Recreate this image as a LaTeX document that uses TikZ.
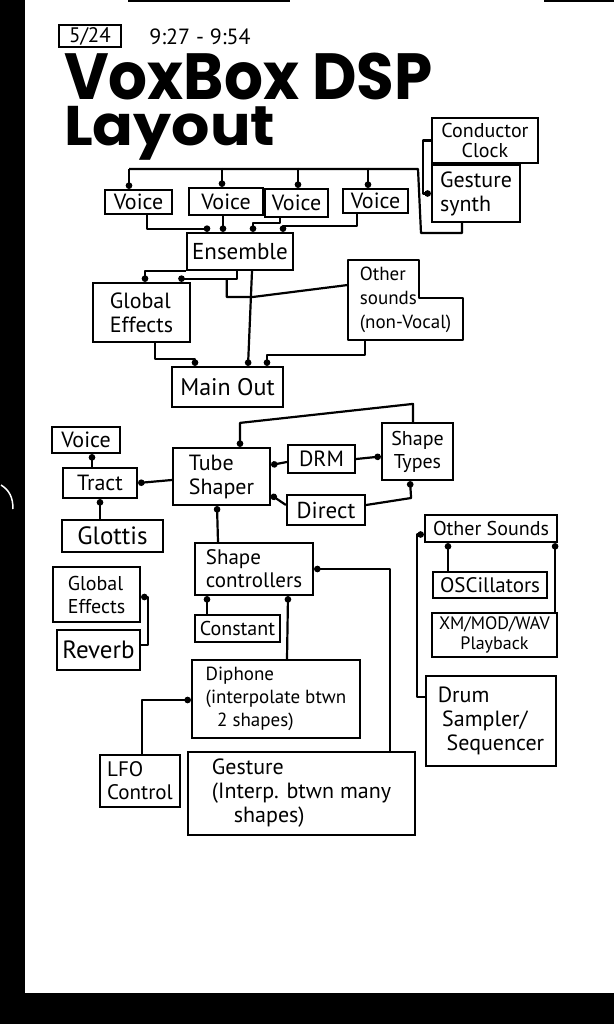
\documentclass[tikz,border=0pt]{standalone}
\usepackage{fontspec}
\setmainfont{PT Sans}
\newfontfamily\titlefont{Poppins}
\usepackage{graphicx}
\usetikzlibrary{arrows.meta}
\newcommand{\fsz}[2]{\fontsize{#1}{#2}\selectfont}
\begin{document}
\begin{tikzpicture}[x=1pt,y=-1pt,
  box/.style={draw, line width=2.2pt, inner sep=0pt, align=center},
  conn/.style={line width=2.2pt, line join=round},
  dotE/.style={conn, -{Circle[length=6.5pt]}},
  dotS/.style={conn, {Circle[length=6.5pt]}-},
  ]
\useasboundingbox (0,0) rectangle (614,1024);
\fill[white] (0,0) rectangle (614,1024);
\fill[black] (0,0) rectangle (25,1024);
\fill[black] (0,993) rectangle (614,1024);
\fill[black] (128,0) rectangle (290,2);
\fill[black] (544,0) rectangle (614,2);
\draw[white, line width=1.5pt] (1,485) .. controls (9,490) and (13,497) .. (13,509);

% title
\node[box, minimum width=62pt, minimum height=22pt, font=\fsz{21}{22}] (date) at (90,36) {5/24};
\node[inner sep=0pt, font=\fsz{22}{23}] (time) at (200,37) {9:27 - 9:54};
\node[anchor=north west, inner sep=0pt, font=\titlefont\bfseries] (title) at (64,53) {\resizebox*{368pt}{47pt}{VoxBox DSP}};
\node[anchor=north west, inner sep=0pt, font=\titlefont\bfseries] (title2) at (64,106) {\resizebox*{211pt}{54pt}{Layout}};

% top group
\node[box, minimum width=67pt, minimum height=24pt, font=\fsz{22}{24}] (v1) at (138.5,202) {Voice};
\node[box, minimum width=74pt, minimum height=27pt, font=\fsz{22}{24}] (v2) at (226,201.5) {Voice};
\node[box, minimum width=63pt, minimum height=28pt, font=\fsz{22}{24}] (v3) at (296.5,203) {Voice};
\node[box, minimum width=65pt, minimum height=24pt, font=\fsz{22}{24}] (v4) at (375.5,201) {Voice};
\node[box, minimum width=106pt, minimum height=37pt, font=\fsz{23}{24}] (ens) at (240,251.5) {Ensemble};
\node[box, minimum width=106pt, minimum height=45pt, font=\fsz{20}{20}] (cclock) at (485,140.5) {Conductor\\Clock};
\node[box, minimum width=88pt, minimum height=57pt, font=\fsz{22}{24}, align=left] (gsynth) at (476,193.5) {Gesture\\synth};
\node[box, minimum width=97pt, minimum height=59pt, font=\fsz{22}{24}, align=left] (geff) at (141.5,312.5) {Global\\Effects};
\node[inner sep=0pt, minimum width=115pt, minimum height=80pt, font=\fsz{19}{24}, align=left] (other) at (405.5,300) {Other\\sounds\\(non-Vocal)};
\draw[line width=2.2pt, line join=round] (other.north west) -- ([xshift=-44pt]other.north east) |- ([yshift=2pt]other.east) -- (other.south east) -- (other.south west) -- cycle;
\node[box, minimum width=111pt, minimum height=40pt, font=\fsz{24}{24}] (mainout) at (227.5,387) {Main Out};

% middle group
\node[box, minimum width=68pt, minimum height=26pt, font=\fsz{22}{24}] (voice5) at (86,440) {Voice};
\node[box, minimum width=74pt, minimum height=30pt, font=\fsz{22}{24}] (tract) at (100,483) {Tract};
\node[box, minimum width=101pt, minimum height=32pt, font=\fsz{25}{26}] (glottis) at (112.5,536) {Glottis};
\node[box, minimum width=97pt, minimum height=57pt, font=\fsz{22}{24}, align=left] (tube) at (221.5,476.5) {Tube\\Shaper};
\node[box, minimum width=67pt, minimum height=28pt, font=\fsz{22}{24}] (drm) at (321.5,459) {DRM};
\node[box, minimum width=71pt, minimum height=57pt, font=\fsz{20}{23}] (stypes) at (417.5,451.5) {Shape\\Types};
\node[box, minimum width=78pt, minimum height=30pt, font=\fsz{23}{24}] (direct) at (326,510) {Direct};
\node[box, minimum width=118pt, minimum height=52pt, font=\fsz{21}{23}, align=left] (sctrl) at (254,569) {Shape\\controllers};
\node[box, minimum width=85pt, minimum height=27pt, font=\fsz{20}{22}] (const) at (237.5,628.5) {Constant};
\node[box, minimum width=87pt, minimum height=55pt, font=\fsz{20}{23}, align=left] (geff2) at (96.5,594.5) {Global\\Effects};
\node[box, minimum width=83pt, minimum height=40pt, font=\fsz{25}{26}] (reverb) at (98.5,650) {Reverb};
\node[box, minimum width=168pt, minimum height=78pt, font=\fsz{19}{23}, align=left] (diphone) at (276,699) {Diphone\\(interpolate btwn\\\hspace*{0.6em}2 shapes)};
\node[box, minimum width=80pt, minimum height=52pt, font=\fsz{21}{23}, align=left] (lfo) at (140,781) {LFO\\Control};
\node[box, minimum width=227pt, minimum height=83pt, font=\fsz{22}{24}, align=left] (gesture) at (301.5,793.5) {Gesture\\(Interp. btwn many\\\hspace*{1em}shapes)};

% right group
\node[box, minimum width=132pt, minimum height=27pt, font=\fsz{20}{22}] (osounds) at (491,528.5) {Other Sounds};
\node[box, minimum width=114pt, minimum height=26pt, font=\fsz{21}{22}] (osc) at (490,585) {OSCillators};
\node[box, minimum width=125pt, minimum height=44pt, font=\fsz{18}{20}] (xm) at (494.5,635) {XM/MOD/WAV\\Playback};
\node[box, minimum width=130pt, minimum height=90pt, font=\fsz{22}{24}, align=left] (drum) at (491,721) {Drum\\\hspace*{0.2em}Sampler/\\\hspace*{0.4em}Sequencer};

% bus
\coordinate (busL) at (129,169);
\coordinate (busR) at (418,169);
\draw[conn] ([xshift=-14pt]gsynth.south) -- ++(0,10) -- ++(-41,0) -- (busR) -- (busL);
\draw[dotE] (busL) -- ([xshift=-9.5pt]v1.north);
\draw[dotE] ([xshift=-4pt]v2.north) ++(0,-19) -- ([xshift=-4pt]v2.north);
\draw[dotE] ([xshift=1.5pt]v3.north) ++(0,-20) -- ([xshift=1.5pt]v3.north);
\draw[dotE] ([xshift=-7.5pt]v4.north) ++(0,-20) -- ([xshift=-7.5pt]v4.north);
\draw[dotE] (cclock.west) -- ++(-8,0) |- (gsynth.west);

% voices to ensemble
\draw[dotE] ([xshift=8.5pt]v1.south) -- ++(0,14) -| ([xshift=-33pt]ens.north);
\draw[dotE] ([xshift=-3pt]v2.south) -- ([xshift=-17pt]ens.north);
\draw[dotE] ([xshift=-16.5pt]v3.south) -- ++(0,5) -| ([xshift=13pt]ens.north);
\draw[dotE] ([xshift=-18.5pt]v4.south) -- ++(0,12) -| ([xshift=43pt]ens.north);

% ensemble / effects / main out
\draw[dotE] (ens.south west) -| ([xshift=3.5pt]geff.north);
\draw[dotE] ([xshift=-3pt]ens.south) -- ++(0,8) -| ([xshift=40pt]geff.north);
\draw[conn] ([yshift=15pt]other.west) -- ++(-95,12) -- ++(-26,0) -- ++(0,-19);
\draw[dotE] ([xshift=12pt]ens.south) -- ([xshift=20.5pt]mainout.north);
\draw[dotE] ([xshift=13.5pt]geff.south) -- ++(0,16) -| ([xshift=-32.5pt]mainout.north);
\draw[dotE] ([xshift=-40.5pt]other.south) -- ++(0,15) -| ([xshift=39.5pt]mainout.north);

% tube shaper group
\draw[dotS] ([xshift=18.5pt]tube.north) -- ++(0,-24) -- ++(173,-19) -- ([xshift=-4.5pt]stypes.north);
\draw[dotE] ([yshift=-3.5pt]tube.west) -- (tract.east);
\draw[dotS] ([xshift=6pt]voice5.south) -- ([xshift=-8pt]tract.north);
\draw[dotS] (tract.south) -- ([xshift=-12.5pt]glottis.north);
\draw[dotS] ([yshift=11.5pt]tube.east) -- ([yshift=-3pt]drm.west);
\draw[dotE] (drm.east) -- ([yshift=-5pt]stypes.west);
\draw[dotS] ([yshift=-18.5pt]tube.east) -- ([yshift=5pt]direct.west);
\draw[dotE] ([yshift=5pt]direct.east) -- ++(45,-7) -- ([xshift=-7.5pt]stypes.south);
\draw[dotS] ([xshift=-4.5pt]tube.south) -- ([xshift=-36pt]sctrl.north);
\draw[dotS] ([xshift=-47pt]sctrl.south) -- ([xshift=-30.5pt]const.north);
\draw[dotS] ([xshift=34pt]sctrl.south) -- ([xshift=11pt]diphone.north);
\draw[dotS] (sctrl.east) -| ([xshift=88.5pt]gesture.north);
\draw[dotE] ([xshift=2pt]lfo.north) |- ([yshift=-1pt]diphone.west);
\draw[dotS] ([yshift=-2.5pt]geff2.east) -- ++(7,0) |- ([yshift=5pt]reverb.east);

% other sounds group
\draw[dotS] ([xshift=-43pt]osounds.south) -- ([xshift=-42pt]osc.north);
\draw[dotS] ([yshift=-6pt]osounds.west) -- ++(-7,0) |- ([yshift=24pt]drum.west);
\draw[dotS] ([xshift=-3pt]osounds.south east) -- ([xshift=-3pt]xm.north east);
\end{tikzpicture}
\end{document}
